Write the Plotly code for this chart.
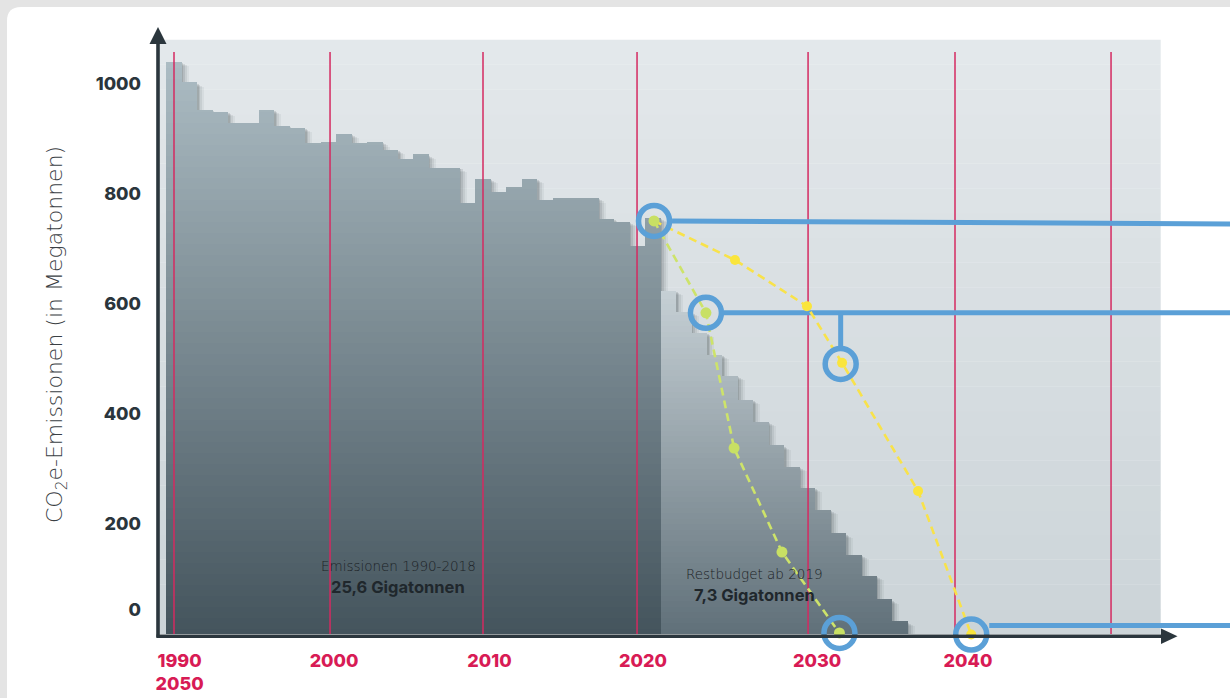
import numpy as np
import plotly.graph_objects as go

# ---------------- data ----------------
years_hist = list(range(1990, 2022))
emis_hist = [1040, 1002, 953, 949, 930, 930, 953, 924, 920, 891, 894, 909, 891, 894,
             880, 862, 871, 848, 848, 784, 827, 804, 813, 827, 789, 792, 792, 792,
             754, 749, 706, 756]
years_budget = list(range(2022, 2038))
emis_budget = [624, 585, 547, 507, 469, 425, 386, 342, 304, 265, 225, 182, 144, 105, 62, 22]

# scenario paths
fast_x = [2021.07, 2024.43, 2026.25, 2029.35, 2033.07]
fast_y = [751, 584, 338, 149, 2]
slow_x = [2021.07, 2026.31, 2030.97, 2033.24, 2038.16, 2041.6]
slow_y = [751, 680, 596, 493, 260, -1]

# highlighted points (blue rings)
ring_x = [2021.07, 2024.43, 2033.15, 2033.07, 2041.6]
ring_y = [751, 584, 491, 2, -1]

# connectors leaving the rings to the right
conn1_y = [751, 745.5]
conn2_y = [584, 584]
conn3_y = [15.5, 15.5]
stub_y = [584, 523]

decade_labels = ["1990<br>2050", "2000", "2010", "2020", "2030", "2040"]
decade_label_pos = [1990.36, 2000.36, 2010.42, 2020.36, 2031.63, 2041.39]
decade_line_pos = [1990, 2000.1, 2010.0, 2019.97, 2031.04, 2040.55, 2050.65]

ytick_vals = [45, 200, 400, 600, 800, 1000]
ytick_text = ["0", "200", "400", "600", "800", "1000"]

# ---------------- geometry helpers ----------------
PXY = 15.45          # px per year
PXV = 0.55           # px per Mt
L, R, T, B = 158, 0, 20, 50
W, H = 1230, 698
x_range = [1990 + (L - 174) / PXY, 1990 + (W - R - 174) / PXY]
y_range = [(634 - (H - B)) / PXV, (634 - T) / PXV]

def PX(px):
    return (px - L) / (W - L - R)

def PY(py):
    return ((H - B) - py) / (H - B - T)

def lerp(c0, c1, t):
    t = min(max(t, 0.0), 1.0)
    return "rgb(%d,%d,%d)" % tuple(round(a + (b - a) * t) for a, b in zip(c0, c1))

DARK_BOT, DARK_TOP = (68, 84, 93), (172, 188, 195)
LIGHT_BOT, LIGHT_TOP = (96, 112, 121), (198, 208, 213)

fig = go.Figure()

years_all = np.array(years_hist + years_budget, dtype=float)
vals_all = np.array(emis_hist + emis_budget, dtype=float)
is_hist = np.array([True] * len(years_hist) + [False] * len(years_budget))

# soft shadows of bar steps
for off, a in [(7, 0.05), (5, 0.07), (3, 0.10), (1.5, 0.12)]:
    fig.add_trace(go.Bar(x=years_all + off / PXY, y=np.maximum(vals_all - off * 0.6 / PXV, 0),
                         width=1.0, marker=dict(color="rgba(20,30,35,%.2f)" % a, line=dict(width=0)),
                         hoverinfo="skip", showlegend=False))

# gradient-filled bars (stacked bands)
step = 10
for lo in range(0, 1060, step):
    h = np.clip(vals_all - lo, 0, step)
    m = h > 0
    if not m.any():
        continue
    mid = lo + step / 2
    cols = [lerp(DARK_BOT, DARK_TOP, mid / 1040) if hh else lerp(LIGHT_BOT, LIGHT_TOP, mid / 624)
            for hh in is_hist[m]]
    fig.add_trace(go.Bar(x=years_all[m], y=h[m], base=[lo] * int(m.sum()), width=1.0,
                         marker=dict(color=cols, line=dict(width=0)),
                         hoverinfo="skip", showlegend=False))

# decade lines
lx, ly = [], []
for p in decade_line_pos:
    lx += [p, p, None]
    ly += [0, 1058, None]
fig.add_trace(go.Scatter(x=lx, y=ly, mode="lines", line=dict(color="#d42a61", width=1.5),
                         hoverinfo="skip", showlegend=False))

BLUE = "#5ba0d7"
end_x = x_range[1]
rr = 18 / PXY
for cx, cy in [(ring_x[0], conn1_y), (ring_x[1], conn2_y), (ring_x[4], conn3_y)]:
    fig.add_trace(go.Scatter(x=[cx + rr, end_x], y=cy, mode="lines",
                             line=dict(color=BLUE, width=5), hoverinfo="skip", showlegend=False))
fig.add_trace(go.Scatter(x=[ring_x[2], ring_x[2]], y=stub_y, mode="lines",
                         line=dict(color=BLUE, width=5), hoverinfo="skip", showlegend=False))

# scenario lines
fig.add_trace(go.Scatter(x=slow_x, y=slow_y, mode="lines+markers",
                         line=dict(color="#f8e24a", width=2.6, dash="8px,5px"),
                         marker=dict(color="#fae53c", size=10),
                         cliponaxis=False, hoverinfo="skip", showlegend=False))
fig.add_trace(go.Scatter(x=fast_x, y=fast_y, mode="lines+markers",
                         line=dict(color="#cde36a", width=2.6, dash="8px,5px"),
                         marker=dict(color="#c8e064", size=11),
                         cliponaxis=False, hoverinfo="skip", showlegend=False))

# rings
fig.add_trace(go.Scatter(x=ring_x, y=ring_y, mode="markers",
                         marker=dict(symbol="circle-open", size=31, color=BLUE, line=dict(width=5.5)),
                         cliponaxis=False, hoverinfo="skip", showlegend=False))

shapes = []
# card
shapes.append(dict(type="path", xref="paper", yref="paper", layer="below",
                   path="M %f %f L %f %f Q %f %f %f %f L %f %f L %f %f Z" % (
                       PX(7), PY(705), PX(7), PY(21), PX(7), PY(7), PX(21), PY(7),
                       PX(1240), PY(7), PX(1240), PY(705)),
                   fillcolor="white", line=dict(width=0)))
# plot background gradient
nb = 24
top_c, bot_c = (227, 232, 235), (204, 212, 216)
y_top_v = (634 - 40) / PXV
for i in range(nb):
    v0 = y_top_v * i / nb
    v1 = y_top_v * (i + 1) / nb
    shapes.append(dict(type="rect", xref="x", yref="y", layer="below",
                       x0=1990 + (158 - 174) / PXY, x1=1990 + (1160.7 - 174) / PXY, y0=v0, y1=v1 + 0.5,
                       fillcolor=lerp(bot_c, top_c, (i + 0.5) / nb), line=dict(width=0)))
AX = "#2b363d"
# axes with arrows
shapes.append(dict(type="line", xref="paper", yref="paper", x0=PX(158), x1=PX(158), y0=PY(637.5), y1=PY(40),
                   line=dict(color=AX, width=3.6), layer="above"))
shapes.append(dict(type="path", xref="paper", yref="paper", layer="above",
                   path="M %f %f L %f %f L %f %f Z" % (PX(149.5), PY(44), PX(158), PY(27), PX(166.5), PY(44)),
                   fillcolor=AX, line=dict(width=0)))
shapes.append(dict(type="line", xref="paper", yref="paper", x0=PX(156.5), x1=PX(1163), y0=PY(636.3), y1=PY(636.3),
                   line=dict(color=AX, width=3.4), layer="above"))
shapes.append(dict(type="path", xref="paper", yref="paper", layer="above",
                   path="M %f %f L %f %f L %f %f Z" % (PX(1161), PY(628.5), PX(1177.5), PY(636.3), PX(1161), PY(644)),
                   fillcolor=AX, line=dict(width=0)))

FONT = "Inter"
LIGHT = "DejaVu Sans"
ann = []
ann.append(dict(text="CO<sub>2</sub>e-Emissionen (in Megatonnen)", xref="paper", yref="paper",
                x=PX(56), y=PY(335), xanchor="center", yanchor="middle", textangle=-90, showarrow=False,
                font=dict(family=LIGHT, size=22, color="#3a4044", weight=200)))
ann.append(dict(text="Emissionen 1990-2018", xref="paper", yref="paper", x=PX(398), y=PY(566),
                xanchor="center", yanchor="middle",
                showarrow=False, font=dict(family=LIGHT, size=13.5, color="#1c2226", weight=200)))
ann.append(dict(text="25,6 Gigatonnen", xref="paper", yref="paper", x=PX(398), y=PY(587),
                xanchor="center", yanchor="middle",
                showarrow=False, font=dict(family=FONT, size=16.5, color="#1f272c", weight=700)))
ann.append(dict(text="Restbudget ab 2019", xref="paper", yref="paper", x=PX(754.5), y=PY(573.5),
                xanchor="center", yanchor="middle",
                showarrow=False, font=dict(family=LIGHT, size=13.5, color="#1c2226", weight=200)))
ann.append(dict(text="7,3 Gigatonnen", xref="paper", yref="paper", x=PX(754.5), y=PY(594.5),
                xanchor="center", yanchor="middle",
                showarrow=False, font=dict(family=FONT, size=16.5, color="#1f272c", weight=700)))

fig.update_layout(
    width=W, height=H,
    margin=dict(l=L, r=R, t=T, b=B, pad=0),
    paper_bgcolor="#e4e4e4", plot_bgcolor="rgba(0,0,0,0)",
    barmode="overlay", bargap=0,
    showlegend=False,
    shapes=shapes, annotations=ann,
    xaxis=dict(range=x_range, showgrid=False, zeroline=False, showline=False, ticks="",
               tickvals=decade_label_pos, ticktext=decade_labels, ticklabelstandoff=0,
               tickfont=dict(family=FONT, size=18, color="#d81b55", weight=800), fixedrange=True),
    yaxis=dict(range=y_range, showgrid=False, zeroline=False, showline=False, ticks="",
               tickvals=ytick_vals, ticktext=ytick_text, ticklabelstandoff=16,
               tickfont=dict(family=FONT, size=18, color="#2a353c", weight=800), fixedrange=True),
)

fig.write_html("out.html")
